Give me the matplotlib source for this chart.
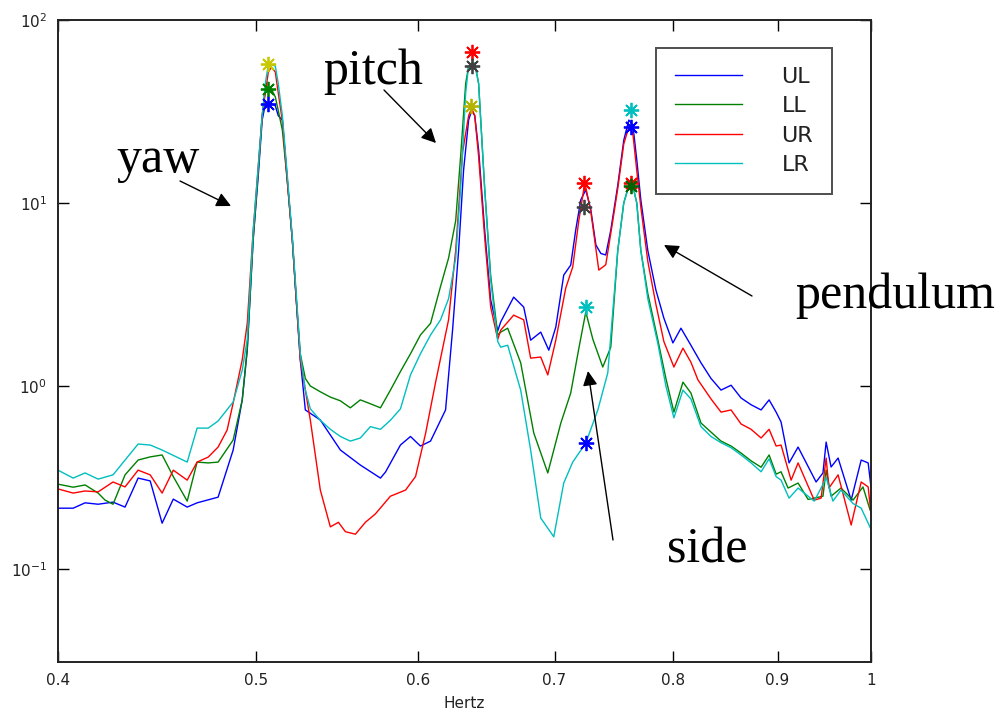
import matplotlib
matplotlib.use("Agg")
import matplotlib.pyplot as plt
from matplotlib.ticker import FixedLocator, FixedFormatter, NullLocator

# ---------------- data ----------------
freq_UL = [0.4000,0.4069,0.4124,0.4185,0.4256,0.4314,0.4378,0.4438,0.4498,0.4555,0.4627,0.4679,0.4791,0.4873,0.4923,0.4951,0.4984,0.5013,0.5035,0.5053,0.5087,0.5110,0.5127,0.5151,0.5180,0.5209,0.5232,0.5256,0.5286,0.5376,0.5499,0.5624,0.5753,0.5786,0.5884,0.5951,0.6018,0.6087,0.6191,0.6240,0.6283,0.6318,0.6354,0.6376,0.6398,0.6426,0.6470,0.6514,0.6566,0.6588,0.6685,0.6761,0.6814,0.6892,0.6955,0.7010,0.7073,0.7129,0.7169,0.7210,0.7251,0.7292,0.7334,0.7375,0.7416,0.7458,0.7517,0.7568,0.7611,0.7646,0.7680,0.7715,0.7776,0.7847,0.7918,0.7999,0.8072,0.8163,0.8256,0.8350,0.8445,0.8541,0.8638,0.8736,0.8835,0.8915,0.8986,0.9036,0.9118,0.9211,0.9400,0.9473,0.9507,0.9560,0.9636,0.9779,0.9890,0.9968,1.0]
amp_UL = [0.215,0.215,0.230,0.226,0.232,0.218,0.314,0.303,0.178,0.241,0.218,0.230,0.247,0.447,0.838,1.57,6.28,14.2,28.4,34.7,35,34,30,28.4,13.4,6.28,2.95,1.39,0.74,0.652,0.447,0.37,0.314,0.339,0.476,0.53,0.47,0.5,0.74,2.02,5.53,15.1,28.4,32,30,19.5,7.1,2.95,2.0,2.24,3.06,2.70,1.78,1.97,1.57,2.10,4.04,4.58,7.1,10.4,11.8,9.2,5.9,5.3,5.2,7.1,12.5,22,28.4,26.7,17.2,10.4,5.5,3.35,2.35,1.72,2.07,1.67,1.34,1.1,0.95,1.01,0.86,0.79,0.74,0.84,0.72,0.636,0.38,0.464,0.299,0.335,0.494,0.361,0.404,0.238,0.394,0.38,0.281]

freq_LL = [0.4000,0.4069,0.4124,0.4185,0.4218,0.4256,0.4314,0.4378,0.4438,0.4498,0.4555,0.4627,0.4679,0.4738,0.4791,0.4873,0.4923,0.4951,0.4984,0.5013,0.5035,0.5053,0.5070,0.5087,0.5110,0.5127,0.5151,0.5180,0.5209,0.5232,0.5256,0.5286,0.5316,0.5376,0.5437,0.5499,0.5561,0.5624,0.5688,0.5753,0.5818,0.5884,0.5951,0.6018,0.6087,0.6156,0.6212,0.6262,0.6297,0.6333,0.6354,0.6376,0.6398,0.6426,0.6470,0.6514,0.6566,0.6588,0.6640,0.6738,0.6838,0.6947,0.7050,0.7129,0.7194,0.7251,0.7309,0.7391,0.7458,0.7517,0.7568,0.7611,0.7646,0.7680,0.7715,0.7776,0.7865,0.7936,0.8008,0.8090,0.8163,0.8256,0.8350,0.8445,0.8541,0.8638,0.8736,0.8835,0.8915,0.8986,0.9036,0.9108,0.9211,0.9316,0.9473,0.9507,0.9560,0.9667,0.9800,0.9910,0.9990]
amp_LL = [0.291,0.28,0.288,0.26,0.238,0.226,0.327,0.394,0.41,0.42,0.32,0.235,0.384,0.38,0.384,0.507,0.838,1.6,6.3,15,30,42,43,42,38,32,25,13,6.3,3,1.5,1.1,1.0,0.93,0.87,0.83,0.76,0.84,0.8,0.76,0.95,1.2,1.5,1.9,2.2,3.5,5,8,18,45,56,58,58,45,12,4,1.9,1.97,2.07,1.34,0.554,0.335,0.628,0.916,1.6,2.54,1.8,1.27,1.63,5.5,10,12.4,12.4,10,5.5,3.2,1.78,1.1,0.72,1.05,0.916,0.628,0.56,0.5,0.47,0.43,0.39,0.36,0.42,0.33,0.34,0.277,0.295,0.24,0.25,0.347,0.25,0.277,0.238,0.281,0.21]

freq_UR = [0.4000,0.4069,0.4124,0.4185,0.4256,0.4314,0.4378,0.4438,0.4498,0.4555,0.4627,0.4679,0.4738,0.4791,0.4840,0.4873,0.4923,0.4951,0.4984,0.5013,0.5035,0.5053,0.5070,0.5087,0.5110,0.5127,0.5151,0.5180,0.5209,0.5232,0.5256,0.5316,0.5376,0.5437,0.5487,0.5530,0.5593,0.5656,0.5720,0.5818,0.5918,0.5985,0.6053,0.6122,0.6212,0.6262,0.6311,0.6354,0.6376,0.6398,0.6426,0.6470,0.6514,0.6566,0.6588,0.6685,0.6761,0.6814,0.6892,0.6947,0.7010,0.7089,0.7145,0.7194,0.7243,0.7292,0.7358,0.7416,0.7475,0.7517,0.7568,0.7611,0.7646,0.7680,0.7715,0.7776,0.7847,0.7918,0.8008,0.8090,0.8163,0.8228,0.8350,0.8445,0.8541,0.8638,0.8736,0.8835,0.8915,0.8986,0.9036,0.9139,0.9211,0.9380,0.9453,0.9507,0.9537,0.9636,0.9779,0.9890,0.9968,1.0]
amp_UR = [0.274,0.26,0.267,0.264,0.299,0.281,0.347,0.327,0.26,0.347,0.306,0.384,0.409,0.464,0.575,0.808,1.39,2.2,7,16,30,40,52,55,52,40,28,13,6.3,3,1.39,0.65,0.27,0.17,0.18,0.16,0.155,0.18,0.20,0.25,0.27,0.32,0.55,1.05,2.3,5.5,19,30,33,30,18,6.5,2.7,1.8,2.02,2.44,2.3,1.42,1.44,1.15,1.78,3.43,4.47,8,12.9,9,4.3,4.6,8,12,21,26,24,15,9.5,4.8,2.8,1.75,1.27,1.61,1.35,1.08,0.85,0.72,0.74,0.62,0.58,0.52,0.58,0.47,0.476,0.306,0.38,0.238,0.244,0.404,0.277,0.327,0.174,0.299,0.281,0.2]

freq_LR = [0.4000,0.4069,0.4124,0.4185,0.4256,0.4378,0.4438,0.4498,0.4627,0.4679,0.4738,0.4791,0.4873,0.4923,0.4951,0.4984,0.5013,0.5035,0.5053,0.5070,0.5087,0.5110,0.5127,0.5151,0.5180,0.5209,0.5232,0.5256,0.5286,0.5316,0.5376,0.5437,0.5499,0.5561,0.5624,0.5688,0.5753,0.5818,0.5884,0.5951,0.6018,0.6087,0.6156,0.6212,0.6262,0.6297,0.6333,0.6354,0.6376,0.6398,0.6426,0.6470,0.6514,0.6566,0.6588,0.6640,0.6738,0.6814,0.6892,0.6994,0.7073,0.7145,0.7251,0.7350,0.7433,0.7517,0.7568,0.7611,0.7646,0.7680,0.7715,0.7776,0.7865,0.7936,0.8008,0.8090,0.8163,0.8256,0.8350,0.8445,0.8541,0.8638,0.8736,0.8835,0.8915,0.8986,0.9036,0.9118,0.9211,0.9380,0.9473,0.9507,0.9580,0.9667,0.9800,0.9890,1.0]
amp_LR = [0.347,0.314,0.335,0.31,0.327,0.482,0.476,0.447,0.384,0.589,0.589,0.644,0.818,1.22,1.8,7,16,30,45,57,57,56,45,30,14,6.5,3.2,1.5,0.95,0.75,0.65,0.58,0.53,0.5,0.52,0.6,0.58,0.65,0.75,1.15,1.5,1.9,2.3,3,5,12,40,56,58,58,45,12,3.8,1.75,1.63,1.67,0.95,0.447,0.19,0.15,0.295,0.384,0.488,0.74,1.18,5.5,10,12.4,12.4,10,5.5,3.0,1.7,1.0,0.67,0.95,0.85,0.6,0.53,0.49,0.46,0.42,0.38,0.34,0.4,0.32,0.306,0.244,0.277,0.235,0.29,0.317,0.235,0.27,0.228,0.215,0.165]

series_names = ["UL", "LL", "UR", "LR"]
series_colors = ["#0000ff", "#008000", "#ff0000", "#00bfbf"]

# peak markers (asterisks)
star_freq = [0.507, 0.507, 0.507, 0.638, 0.638, 0.637, 0.724, 0.724, 0.725, 0.725, 0.763, 0.763, 0.763, 0.763]
star_amp = [57.5, 42, 34.7, 66.8, 56, 33.9, 12.9, 9.5, 2.7, 0.488, 32.2, 26, 12.9, 12.4]
star_colors = ["#c8c800", "#008000", "#0000ff", "#ff0000", "#404040", "#b4b400",
               "#ff0000", "#404040", "#00bfbf", "#0000ff", "#00bfbf", "#0000ff", "#ff0000", "#006400"]

xticks = [0.4, 0.5, 0.6, 0.7, 0.8, 0.9, 1.0]
xticklabels = ["0.4", "0.5", "0.6", "0.7", "0.8", "0.9", "1"]
yticks = [0.1, 1, 10, 100]

# annotations: (text, text position px, arrow tail px, arrow tip px)
notes = [
    ("yaw", (158, 160), (180, 181), (231, 206)),
    ("pitch", (373, 72), (384, 90), (436, 143)),
    ("pendulum", (895, 296), (752, 296), (664, 245)),
    ("side", (707, 550), (613, 540), (588, 371)),
]

# ---------------- figure ----------------
W, H = 1004, 717
fig = plt.figure(figsize=(W / 100, H / 100), dpi=100)
fig.patch.set_facecolor("white")
ax = fig.add_axes([58 / W, 1 - 662 / H, (871 - 58) / W, (662 - 20) / H])

data = [(freq_UL, amp_UL), (freq_LL, amp_LL), (freq_UR, amp_UR), (freq_LR, amp_LR)]
for (f, a), name, c in zip(data, series_names, series_colors):
    ax.plot(f, a, color=c, lw=1.0, label=name)

for f, a, c in zip(star_freq, star_amp, star_colors):
    ax.plot([f], [a], marker=(8, 2, 0), ls="none", color=c, ms=11, mew=1.3)

ax.set_xscale("log")
ax.set_yscale("log")
ax.set_xlim(0.4, 1.0)
ax.set_ylim(10 ** -1.508, 100)

ax.xaxis.set_major_locator(FixedLocator(xticks))
ax.xaxis.set_major_formatter(FixedFormatter(xticklabels))
ax.xaxis.set_minor_locator(NullLocator())
ax.yaxis.set_major_locator(FixedLocator(yticks))
ax.yaxis.set_minor_locator(NullLocator())

ax.tick_params(axis="both", which="major", direction="in", length=8, width=1.0,
               top=True, right=True, labelsize=11, labelcolor="#222222", pad=8)
for s in ax.spines.values():
    s.set_linewidth(1.4)
    s.set_color("#222222")

ax.set_xlabel("Hertz", fontsize=11, color="#222222", labelpad=6)

leg = ax.legend(loc="upper left", bbox_to_anchor=((656 - 58) / (871 - 58), 1 - (48 - 20) / (662 - 20)),
                fontsize=16, frameon=True, fancybox=False, handlelength=3.0,
                handletextpad=1.8, labelspacing=0.42, borderpad=0.85, borderaxespad=0)
leg.get_frame().set_edgecolor("#222222")
leg.get_frame().set_linewidth(1.4)
for t in leg.get_texts():
    t.set_color("#222222")

for text, tpos, tail, tip in notes:
    fig.text(tpos[0] / W, 1 - tpos[1] / H, text, fontsize=36, family="Liberation Serif",
             ha="center", va="center", color="black")
    fig.add_artist(matplotlib.patches.FancyArrowPatch(
        (tail[0] / W, 1 - tail[1] / H), (tip[0] / W, 1 - tip[1] / H),
        transform=fig.transFigure, arrowstyle="-|>", mutation_scale=22,
        color="black", lw=1.0, shrinkA=0, shrinkB=0))

fig.savefig("out.png", dpi=100)
